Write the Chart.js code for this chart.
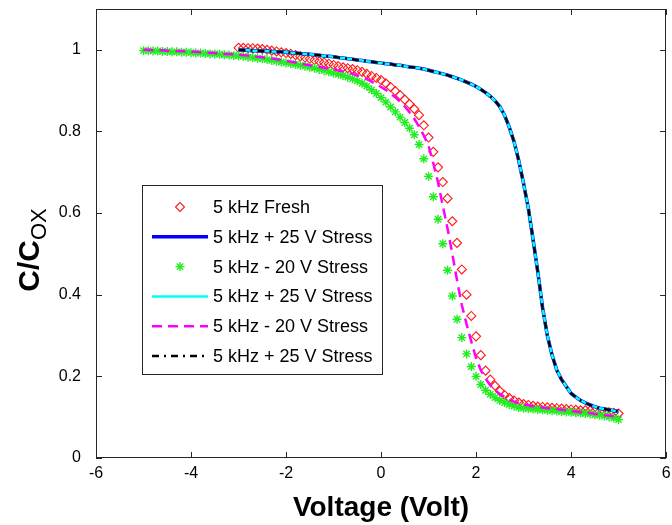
<!DOCTYPE html>
<html>
<head>
<meta charset="utf-8">
<script src="https://cdn.jsdelivr.net/npm/chart.js@4.4.1/dist/chart.umd.min.js"></script>
<style>
  html, body { margin: 0; padding: 0; background: #fff; }
  #wrap { width: 672px; height: 525px; }
</style>
</head>
<body>
<div id="wrap"><canvas id="cv" width="672" height="525"></canvas></div>
<script>
// gate voltage sweep (V)
const volts = [
  -5.0, -4.9, -4.8, -4.7, -4.6, -4.5, -4.4, -4.3, -4.2, -4.1,
  -4.0, -3.9, -3.8, -3.7, -3.6, -3.5, -3.4, -3.3, -3.2, -3.1,
  -3.0, -2.9, -2.8, -2.7, -2.6, -2.5, -2.4, -2.3, -2.2, -2.1,
  -2.0, -1.9, -1.8, -1.7, -1.6, -1.5, -1.4, -1.3, -1.2, -1.1,
  -1.0, -0.9, -0.8, -0.7, -0.6, -0.5, -0.4, -0.3, -0.2, -0.1,
  0.0, 0.1, 0.2, 0.3, 0.4, 0.5, 0.6, 0.7, 0.8, 0.9,
  1.0, 1.1, 1.2, 1.3, 1.4, 1.5, 1.6, 1.7, 1.8, 1.9,
  2.0, 2.1, 2.2, 2.3, 2.4, 2.5, 2.6, 2.7, 2.8, 2.9,
  3.0, 3.1, 3.2, 3.3, 3.4, 3.5, 3.6, 3.7, 3.8, 3.9,
  4.0, 4.1, 4.2, 4.3, 4.4, 4.5, 4.6, 4.7, 4.8, 4.9,
  5.0
];

// C/Cox, fresh device (sweep starts at -3 V)
const fresh = [
  null, null, null, null, null, null, null, null, null, null,
  null, null, null, null, null, null, null, null, null, null,
  1.005, 1.005, 1.004, 1.004, 1.003, 1.002, 1.000, 0.998, 0.996, 0.994,
  0.992, 0.990, 0.987, 0.984, 0.981, 0.978, 0.975, 0.972, 0.969, 0.966,
  0.963, 0.960, 0.957, 0.955, 0.953, 0.950, 0.946, 0.941, 0.936, 0.931,
  0.926, 0.918, 0.909, 0.899, 0.889, 0.878, 0.867, 0.855, 0.840, 0.815,
  0.785, 0.750, 0.712, 0.676, 0.636, 0.580, 0.527, 0.462, 0.400, 0.348,
  0.298, 0.252, 0.214, 0.192, 0.177, 0.164, 0.154, 0.147, 0.141, 0.136,
  0.132, 0.130, 0.128, 0.126, 0.125, 0.124, 0.123, 0.122, 0.121, 0.120,
  0.119, 0.118, 0.117, 0.117, 0.116, 0.115, 0.114, 0.113, 0.112, 0.111,
  0.109
];

// after +25 V stress
const stressPos = [
  null, null, null, null, null, null, null, null, null, null,
  null, null, null, null, null, null, null, null, null, null,
  1.000, 0.999, 0.999, 0.998, 0.998, 0.997, 0.997, 0.996, 0.995, 0.995,
  0.994, 0.993, 0.992, 0.991, 0.990, 0.989, 0.988, 0.987, 0.985, 0.984,
  0.983, 0.981, 0.980, 0.978, 0.977, 0.975, 0.974, 0.972, 0.971, 0.969,
  0.968, 0.966, 0.965, 0.963, 0.962, 0.960, 0.958, 0.957, 0.955, 0.953,
  0.950, 0.947, 0.944, 0.941, 0.938, 0.934, 0.930, 0.926, 0.921, 0.916,
  0.910, 0.903, 0.895, 0.886, 0.875, 0.861, 0.840, 0.810, 0.775, 0.728,
  0.672, 0.612, 0.535, 0.455, 0.368, 0.300, 0.252, 0.215, 0.192, 0.175,
  0.158, 0.149, 0.141, 0.135, 0.130, 0.126, 0.122, 0.120, 0.118, 0.116,
  0.114
];

// after -20 V stress (markers)
const stressNeg = [
  0.998, 0.998, 0.997, 0.997, 0.996, 0.996, 0.995, 0.995, 0.994, 0.994,
  0.993, 0.992, 0.992, 0.991, 0.990, 0.990, 0.989, 0.988, 0.987, 0.986,
  0.985, 0.984, 0.982, 0.981, 0.979, 0.978, 0.976, 0.974, 0.972, 0.970,
  0.968, 0.966, 0.964, 0.962, 0.960, 0.957, 0.955, 0.952, 0.949, 0.946,
  0.943, 0.940, 0.937, 0.933, 0.929, 0.924, 0.918, 0.911, 0.902, 0.893,
  0.883, 0.872, 0.860, 0.848, 0.835, 0.822, 0.808, 0.792, 0.768, 0.733,
  0.690, 0.640, 0.585, 0.525, 0.460, 0.397, 0.340, 0.295, 0.255, 0.224,
  0.200, 0.180, 0.166, 0.156, 0.148, 0.141, 0.136, 0.131, 0.127, 0.124,
  0.122, 0.121, 0.120, 0.119, 0.118, 0.117, 0.116, 0.115, 0.114, 0.113,
  0.112, 0.111, 0.110, 0.109, 0.108, 0.106, 0.105, 0.103, 0.101, 0.098,
  0.094
];

// after -20 V stress (dashed trace)
const stressNegLine = [
  1.000, 1.000, 0.999, 0.999, 0.999, 0.998, 0.998, 0.997, 0.997, 0.996,
  0.995, 0.995, 0.994, 0.993, 0.993, 0.992, 0.991, 0.990, 0.990, 0.989,
  0.988, 0.987, 0.986, 0.985, 0.983, 0.982, 0.980, 0.979, 0.977, 0.975,
  0.973, 0.971, 0.969, 0.967, 0.964, 0.962, 0.960, 0.958, 0.956, 0.954,
  0.952, 0.949, 0.947, 0.944, 0.941, 0.937, 0.933, 0.928, 0.922, 0.916,
  0.909, 0.902, 0.893, 0.884, 0.873, 0.861, 0.847, 0.831, 0.812, 0.790,
  0.765, 0.722, 0.675, 0.618, 0.562, 0.500, 0.435, 0.375, 0.328, 0.285,
  0.245, 0.215, 0.195, 0.178, 0.166, 0.157, 0.150, 0.143, 0.138, 0.134,
  0.131, 0.129, 0.127, 0.125, 0.124, 0.122, 0.121, 0.120, 0.118, 0.117,
  0.115, 0.114, 0.112, 0.111, 0.110, 0.108, 0.107, 0.105, 0.104, 0.102,
  0.100
];

const legendLabels = [
  '5 kHz Fresh',
  '5 kHz + 25 V Stress',
  '5 kHz - 20 V Stress',
  '5 kHz + 25 V Stress',
  '5 kHz - 20 V Stress',
  '5 kHz + 25 V Stress'
];

const xTicks = [-6, -4, -2, 0, 2, 4, 6];
const yTicks = [0, 0.2, 0.4, 0.6, 0.8, 1];

const FONT = "'Liberation Sans', Arial, sans-serif";

function pts(arr) {
  return volts.map((v, i) => ({ x: v, y: arr[i] }));
}

// box, inward tick marks on all four sides, y title with subscript, legend
const decorations = {
  id: 'decorations',
  afterDraw(chart) {
    const { ctx, chartArea: a, scales: { x, y } } = chart;
    ctx.save();
    ctx.strokeStyle = '#262626';
    ctx.lineWidth = 1;
    ctx.strokeRect(Math.round(a.left) + 0.5, Math.round(a.top) + 0.5,
                   Math.round(a.width) - 1, Math.round(a.height) - 1);
    const tl = 6;
    ctx.beginPath();
    xTicks.forEach(v => {
      const px = Math.round(x.getPixelForValue(v)) + 0.5;
      ctx.moveTo(px, a.bottom); ctx.lineTo(px, a.bottom - tl);
      ctx.moveTo(px, a.top); ctx.lineTo(px, a.top + tl);
    });
    yTicks.forEach(v => {
      const py = Math.round(y.getPixelForValue(v)) + 0.5;
      ctx.moveTo(a.left, py); ctx.lineTo(a.left + tl, py);
      ctx.moveTo(a.right, py); ctx.lineTo(a.right - tl, py);
    });
    ctx.stroke();

    // y axis title: C/C with subscript OX
    ctx.save();
    ctx.translate(39, 250);
    ctx.rotate(-Math.PI / 2);
    ctx.fillStyle = '#000';
    ctx.textBaseline = 'alphabetic';
    ctx.font = 'bold 30px ' + FONT;
    const w1 = ctx.measureText('C/C').width;
    ctx.font = '22px ' + FONT;
    const w2 = ctx.measureText('OX').width;
    const x0 = -(w1 + w2) / 2;
    ctx.font = 'bold 30px ' + FONT;
    ctx.fillText('C/C', x0, 0);
    ctx.font = '22px ' + FONT;
    ctx.fillText('OX', x0 + w1, 7);
    ctx.restore();

    // legend box
    const bx = 142, by = 185, bw = 240, bh = 189;
    ctx.fillStyle = '#fff';
    ctx.fillRect(bx, by, bw, bh);
    ctx.strokeStyle = '#262626';
    ctx.strokeRect(bx + 0.5, by + 0.5, bw, bh);
    const rowH = 29.8;
    ctx.font = '18px ' + FONT;
    ctx.textBaseline = 'middle';
    chart.data.datasets.forEach((ds, i) => {
      const ry = by + 22 + i * rowH;
      if (ds.showLine !== false) {
        ctx.save();
        ctx.strokeStyle = ds.borderColor;
        ctx.lineWidth = ds.borderWidth;
        ctx.setLineDash(ds.borderDash || []);
        ctx.beginPath();
        ctx.moveTo(152, ry);
        ctx.lineTo(208, ry);
        ctx.stroke();
        ctx.restore();
      }
      if (ds.pointRadius > 0) {
        ctx.save();
        ctx.strokeStyle = ds.pointBorderColor;
        ctx.fillStyle = ds.pointBackgroundColor;
        ctx.lineWidth = ds.pointBorderWidth;
        Chart.helpers.drawPoint(ctx, {
          pointStyle: ds.pointStyle, radius: ds.pointRadius,
          borderWidth: ds.pointBorderWidth, rotation: 0
        }, 180, ry);
        ctx.restore();
      }
      ctx.fillStyle = '#000';
      ctx.fillText(legendLabels[i], 213, ry + 1);
    });
    ctx.restore();
  }
};

new Chart(document.getElementById('cv'), {
  type: 'line',
  data: {
    datasets: [
      {
        label: legendLabels[0], data: pts(fresh), order: 6,
        showLine: false, pointStyle: 'rectRot', pointRadius: 4.5,
        pointBorderColor: '#ff1a1a', pointBackgroundColor: 'rgba(255,255,255,0)',
        pointBorderWidth: 1.1
      },
      {
        label: legendLabels[1], data: pts(stressPos), order: 5,
        borderColor: '#0000ff', borderWidth: 3.5, pointRadius: 0
      },
      {
        label: legendLabels[2], data: pts(stressNeg), order: 4,
        showLine: false, pointStyle: 'star', pointRadius: 4.5,
        pointBorderColor: '#1fee1f', pointBackgroundColor: '#1fee1f',
        pointBorderWidth: 1.4
      },
      {
        label: legendLabels[3], data: pts(stressPos), order: 3,
        borderColor: '#00ffff', borderWidth: 2.5, pointRadius: 0
      },
      {
        label: legendLabels[4], data: pts(stressNegLine), order: 2,
        borderColor: '#ff00ff', borderWidth: 2.5, borderDash: [10, 6], pointRadius: 0
      },
      {
        label: legendLabels[5], data: pts(stressPos), order: 1,
        borderColor: '#000000', borderWidth: 2.5, borderDash: [7, 5, 2, 5], pointRadius: 0
      }
    ]
  },
  options: {
    responsive: false,
    animation: false,
    layout: { padding: { top: 9, right: 4, left: 0, bottom: 0 } },
    plugins: { legend: { display: false }, tooltip: { enabled: false } },
    elements: { line: { tension: 0 } },
    scales: {
      x: {
        type: 'linear', min: -6, max: 6,
        grid: { display: false }, border: { display: false },
        ticks: {
          stepSize: 2, padding: -2, color: '#000', maxRotation: 0,
          font: { family: FONT, size: 16 },
          callback: v => String(v)
        },
        title: {
          display: true, text: 'Voltage (Volt)', color: '#000',
          font: { family: FONT, size: 28, weight: 'bold' }, padding: 0
        },
        afterFit(s) { s.height = 67; s.paddingLeft = 0; s.paddingRight = 0; }
      },
      y: {
        type: 'linear', min: 0, max: 1.1,
        grid: { display: false }, border: { display: false },
        ticks: {
          stepSize: 0.2, includeBounds: false, padding: 7, color: '#000',
          font: { family: FONT, size: 16 },
          callback: v => String(+v.toFixed(1))
        },
        afterFit(s) { s.width = 96; s.paddingTop = 0; s.paddingBottom = 0; }
      }
    }
  },
  plugins: [decorations]
});
</script>
</body>
</html>
